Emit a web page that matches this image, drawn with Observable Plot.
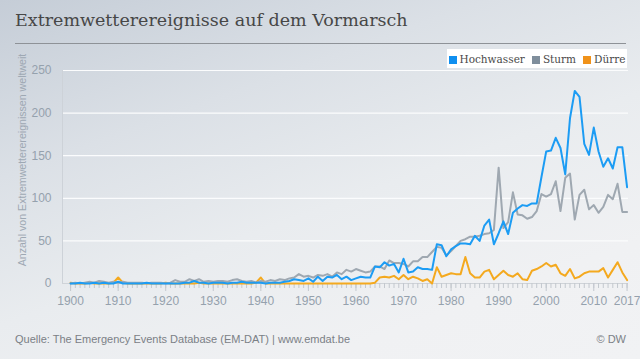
<!DOCTYPE html>
<html><head><meta charset="utf-8">
<script src="https://cdn.jsdelivr.net/npm/d3@7"></script>
<script src="https://cdn.jsdelivr.net/npm/@observablehq/plot@0.6"></script>
<style>
body{margin:0;}
#wrap{position:relative;width:640px;height:359px;overflow:hidden;background:linear-gradient(160deg,#c5cdd7 0%,#dbe0e6 30%,#e9ecef 55%,#f0f1f3 80%,#f1f2f4 100%);font-family:"Liberation Sans",Arial,sans-serif;}
#title{position:absolute;left:15px;top:10px;font-family:"DejaVu Serif",Georgia,serif;font-size:17.5px;color:#474747;white-space:nowrap;}
#rule{position:absolute;left:15px;top:43px;width:611px;height:1px;background:#8e9297;}
#legend{position:absolute;left:447px;top:49px;width:180px;height:19px;background:#fff;display:flex;align-items:center;justify-content:center;gap:7px;font-family:"DejaVu Serif",Georgia,serif;font-size:10.5px;color:#4a4a4a;white-space:nowrap;}
#legend > span{flex:0 0 auto;}
#legend span.sw{display:inline-block;width:8px;height:8px;margin-right:3px;vertical-align:-1px;}
#chart{position:absolute;left:0;top:60px;}
#ytitle{position:absolute;left:22px;top:160px;transform:translate(-50%,-50%) rotate(-90deg);font-size:10.6px;color:#9ea8b3;white-space:nowrap;}
#source{position:absolute;left:15px;top:333px;font-size:11px;color:#7b8086;}
#dw{position:absolute;right:14px;top:333px;font-size:11px;color:#7b8086;}
</style></head>
<body>
<div id="wrap">
<div id="title">Extremwetterereignisse auf dem Vormarsch</div>
<div id="rule"></div>
<div id="legend"></div>
<div id="chart"></div>
<div id="ytitle">Anzahl von Extremwetterereignissen weltweit</div>
<div id="source">Quelle: The Emergency Events Database (EM-DAT) | www.emdat.be</div>
<div id="dw">© DW</div>
</div>
<script>
const firstYear = 1900;
const hochwasser = [
0,0,1,0,0,1,0,1,0,0,
2,0,0,0,0,0,1,0,0,0,
0,0,0,0,1,1,3,1,1,0,
1,1,1,0,1,1,2,1,1,1,
1,0,1,1,1,2,3,5,4,3,
6,2,8,3,8,7,10,5,8,4,
6,8,7,7,20,19,25,21,23,13,
29,13,14,19,17,17,16,46,45,32,
40,44,47,47,46,56,50,68,75,46,
59,73,58,83,88,92,91,94,94,125,
155,156,171,159,128,194,226,219,164,151,
183,155,137,147,135,160,160,113];
const sturm = [
0,1,0,1,2,1,3,2,1,2,
1,2,1,1,1,1,0,1,1,1,
0,1,4,2,2,5,3,5,2,3,
2,3,3,2,4,5,3,2,3,1,
3,2,4,3,5,4,6,7,11,8,
9,7,10,9,11,8,13,11,16,14,
17,15,13,14,20,20,17,27,24,24,
23,20,26,26,31,31,37,43,42,33,
38,44,50,52,55,55,56,58,59,63,
136,65,72,107,81,80,76,78,85,105,
102,105,120,85,124,129,75,104,110,87,
92,83,90,104,99,117,84,84];
const duerre = [
1,0,0,0,1,0,0,0,0,1,
7,1,0,0,0,0,0,0,0,0,
1,0,0,0,0,0,0,1,0,0,
0,0,0,0,0,0,0,0,0,1,
7,0,0,0,0,0,0,0,0,0,
0,0,0,0,0,0,0,0,0,0,
0,0,0,0,1,7,8,7,9,5,
10,5,8,6,3,5,0,19,8,10,
12,11,11,31,12,7,7,14,16,5,
10,15,10,8,12,5,4,15,17,20,
24,20,22,12,9,17,6,8,12,14,
14,14,18,7,16,25,13,4];
const seriesNames = ["Hochwasser","Sturm","Dürre"];
const lineColors = ["#1c9cf4","#9fa8b1","#f4a91f"];
const swatchColors = ["#0f8ff0","#7f8e9c","#f0921a"];
const yTicks = [0,50,100,150,200,250];
const xLabels = [1900,1910,1920,1930,1940,1950,1960,1970,1980,1990,2000,2010,2017];
const xDomain = [1898.3, 2017.3];

const years = hochwasser.map((_, i) => firstYear + i);
const rows = [];
// draw order: Dürre, Sturm, Hochwasser (blue on top)
[[duerre, 2], [sturm, 1], [hochwasser, 0]].forEach(([vals, k]) => vals.forEach((v, i) => rows.push({year: years[i], value: v, series: seriesNames[k]})));

const leg = document.getElementById("legend");
seriesNames.forEach((n, i) => {
  const s = document.createElement("span");
  s.innerHTML = `<span class="sw" style="background:${swatchColors[i]}"></span>${n}`;
  leg.appendChild(s);
});

const chart = Plot.plot({
  width: 640, height: 250,
  marginLeft: 62, marginRight: 12, marginTop: 10, marginBottom: 27,
  style: {background: "transparent", fontFamily: "'Liberation Sans', Arial, sans-serif", fontSize: "12px", color: "#95a1ad"},
  x: {domain: xDomain, label: null},
  y: {domain: [0, 250], label: null},
  color: {domain: seriesNames, range: lineColors},
  marks: [
    Plot.gridY(yTicks.slice(1), {stroke: "#fbfcfd", strokeOpacity: 1, strokeWidth: 1.2}),
    Plot.ruleX([xDomain[0]], {stroke: "#cdd2d8", y1: 0, y2: 250}),
    Plot.ruleY([0], {stroke: "#cfd3d8"}),
    Plot.axisX({ticks: years, tickSize: 5, text: null, stroke: "#c3c8ce", label: null}),
    Plot.axisX({ticks: xLabels, tickSize: 8, tickPadding: 5, tickFormat: d => String(d), stroke: "#c3c8ce", fill: "#95a1ad", label: null}),
    Plot.axisY({ticks: yTicks, tickSize: 0, tickPadding: 11, fill: "#95a1ad", label: null}),
    Plot.lineY(rows, {x: "year", y: "value", stroke: "series", strokeWidth: 2, z: "series", curve: "linear"})
  ]
});
document.getElementById("chart").appendChild(chart);
</script>
</body></html>
